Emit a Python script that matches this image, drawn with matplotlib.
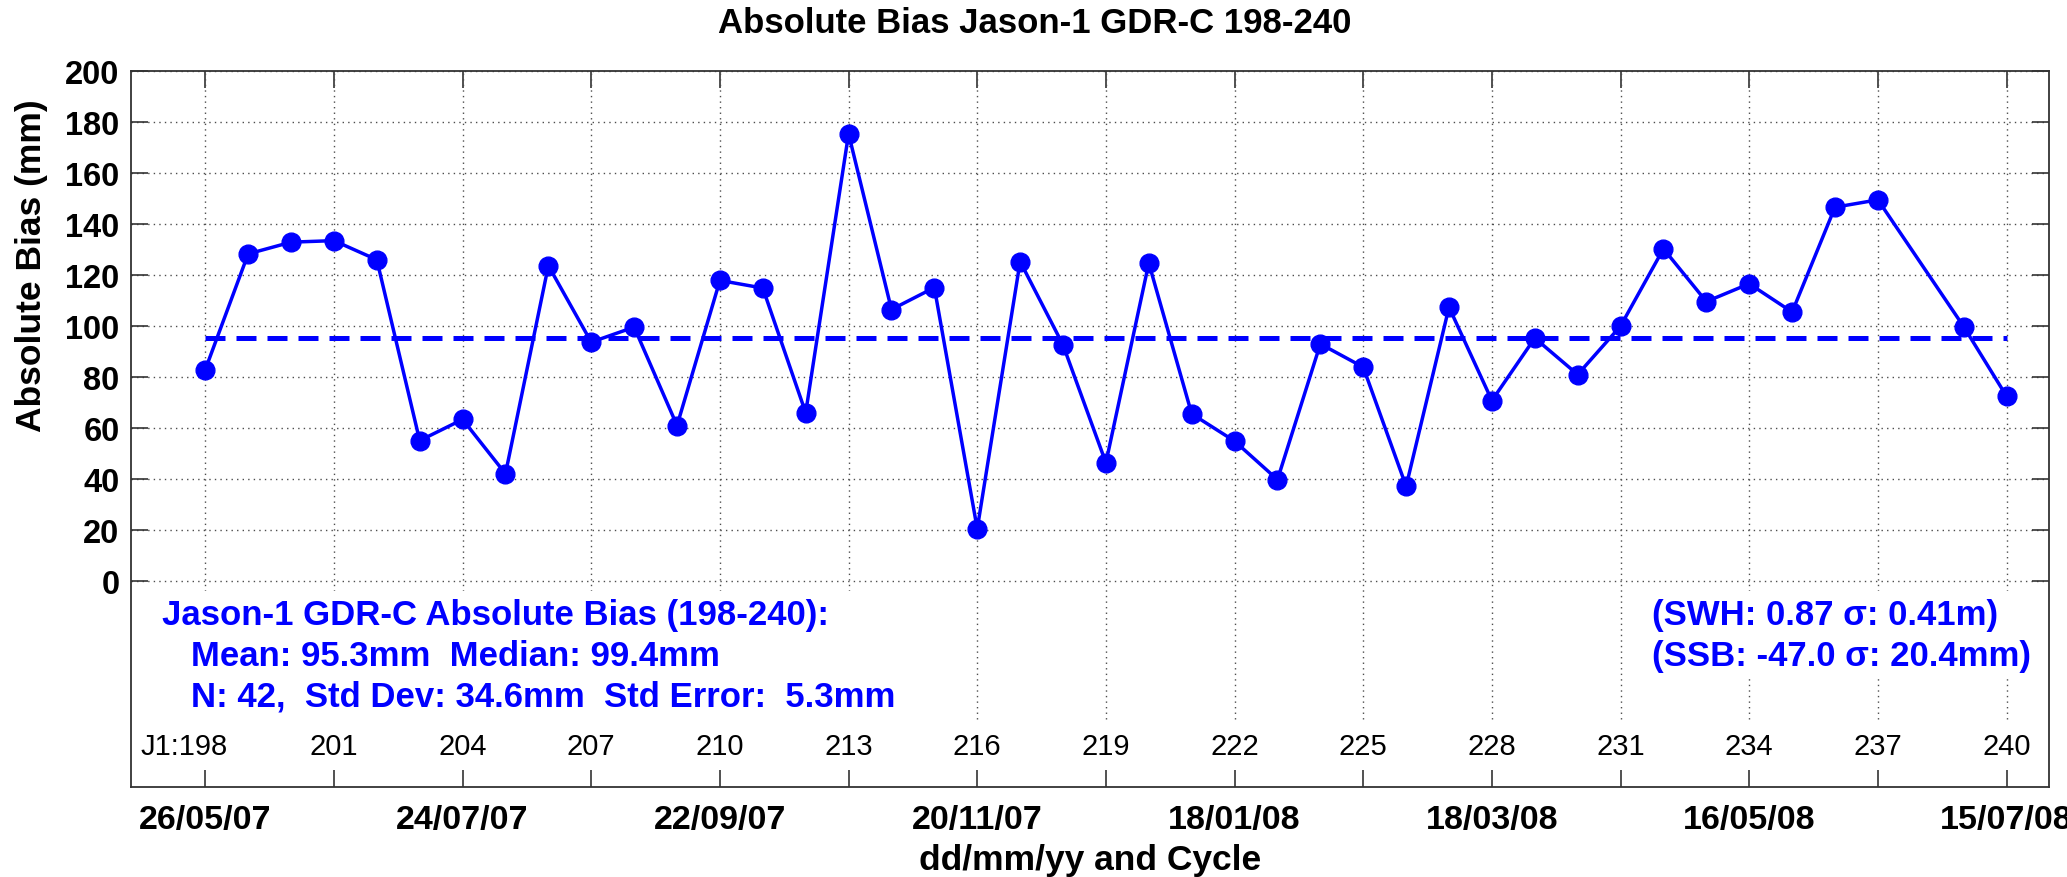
import matplotlib
matplotlib.use("Agg")
import matplotlib.pyplot as plt

plt.rcParams['font.family'] = ['Liberation Sans', 'DejaVu Sans']

# Jason-1 GDR-C absolute bias per cycle (cycle 238 missing)
cycles = [198, 199, 200, 201, 202, 203, 204, 205, 206, 207, 208, 209, 210, 211,
          212, 213, 214, 215, 216, 217, 218, 219, 220, 221, 222, 223, 224, 225,
          226, 227, 228, 229, 230, 231, 232, 233, 234, 235, 236, 237, 239, 240]
bias = [83.0, 128.4, 133.0, 133.6, 126.1, 55.2, 63.5, 42.2, 123.8, 93.8, 99.7, 61.1,
        118.0, 115.0, 66.1, 175.5, 106.6, 115.2, 20.6, 125.4, 92.7, 46.5, 124.8, 65.7,
        55.0, 39.9, 93.1, 84.0, 37.3, 107.5, 70.9, 95.4, 81.1, 100.1, 130.4, 109.7,
        116.7, 105.6, 146.7, 149.6, 99.9, 72.6]
mean_bias = 95.3

grid_cycles = list(range(198, 241, 3))
cycle_labels = ['J1:198'] + [str(c) for c in grid_cycles[1:]]
date_labels = ['26/05/07', '24/07/07', '22/09/07', '20/11/07',
               '18/01/08', '18/03/08', '16/05/08', '15/07/08']

stats_text = ('Jason-1 GDR-C Absolute Bias (198-240):\n'
              '   Mean: 95.3mm  Median: 99.4mm\n'
              '   N: 42,  Std Dev: 34.6mm  Std Error:  5.3mm')
ssb_text = '(SWH: 0.87 \u03c3: 0.41m)\n(SSB: -47.0 \u03c3: 20.4mm)'

blue = (0, 0, 1)
gridc = (0.3, 0.3, 0.3)

fig = plt.figure(figsize=(20.67, 8.78), dpi=100)
ax = fig.add_axes([0.0632, 0.1025, 0.9281, 0.8152])

ax.set_xlim(196.26, 240.99)
ax.set_ylim(-80.6, 200)

# grid: horizontal through axis, vertical drawn only down to the cycle labels
ax.set_axisbelow(True)
ax.yaxis.grid(True, linestyle=(0, (1, 3)), color=gridc, linewidth=1)
ax.vlines(grid_cycles, -54, 200, colors=[gridc], linestyles=[(0, (1, 3))],
          linewidth=1, zorder=1)

ax.plot([cycles[0], cycles[-1]], [mean_bias, mean_bias], color=blue,
        linewidth=3.6, dashes=(4, 2.2), zorder=3)
ax.plot(cycles, bias, color=blue, linewidth=2.5, marker='o', markersize=13.5,
        markerfacecolor=blue, markeredgecolor=blue, zorder=4)

# ticks
ax.set_yticks(range(0, 201, 20))
ax.set_yticklabels([str(v) for v in range(0, 201, 20)], fontsize=23.5, fontweight='bold')
ax.set_xticks(grid_cycles)
xlabs = []
for i in range(len(grid_cycles)):
    xlabs.append(date_labels[i // 2] if i % 2 == 0 else '')
ax.set_xticklabels(xlabs, fontsize=24.5, fontweight='bold')
ax.tick_params(axis='both', direction='in', length=12, width=1.2, color='#333333',
               top=True, right=True)
ax.tick_params(axis='x', pad=12)
ax.tick_params(axis='y', pad=8)
for s in ax.spines.values():
    s.set_linewidth(1.3)
    s.set_color('#333333')

# cycle numbers inside the axes
for i, (c, lab) in enumerate(zip(grid_cycles, cycle_labels)):
    xpos = c - 0.5 if i == 0 else c
    ax.text(xpos, -64.5, lab, ha='center', va='center', fontsize=21, zorder=5)

# stats boxes (white background hides the grid)
ax.text(197.0, -6.5, stats_text, ha='left', va='top', fontsize=25, fontweight='bold',
        color=blue, linespacing=1.3, zorder=5,
        bbox=dict(facecolor='white', edgecolor='none', pad=5))
ax.text(231.73, -6.5, ssb_text, ha='left', va='top', fontsize=25, fontweight='bold',
        color=blue, linespacing=1.3, zorder=5,
        bbox=dict(facecolor='white', edgecolor='none', pad=5))

ax.set_xlabel('dd/mm/yy and Cycle', fontsize=25.5, fontweight='bold', labelpad=6)
ax.set_ylabel('Absolute Bias (mm)', fontsize=25.5, fontweight='bold', va='center')
ax.yaxis.set_label_coords(-0.0515, 0.730)

fig.text(0.5007, 0.9727, 'Absolute Bias Jason-1 GDR-C 198-240', ha='center',
         va='center', fontsize=25, fontweight='bold')

fig.savefig('out.png', dpi=100)
